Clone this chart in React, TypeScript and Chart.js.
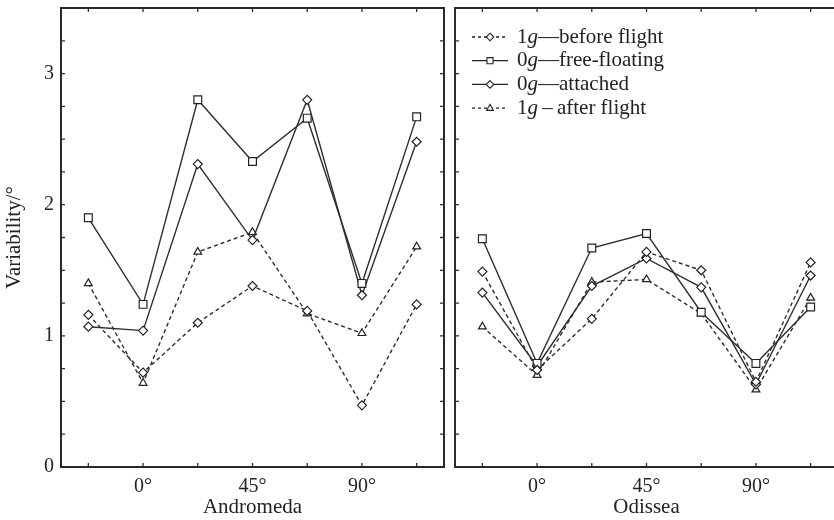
import React, { useEffect, useRef } from 'react';
import { Chart, registerables } from 'chart.js';

Chart.register(...registerables);

// ---------- data ----------
const categories = ['', '0°', '', '45°', '', '90°', ''];
const yTickValues = [0, 1, 2, 3];
const panelTitles = ['Andromeda', 'Odissea'];
const yTitle = 'Variability/°';

const seriesNames = ['1g—before flight', '0g—free-floating', '0g—attached', '1g – after flight'];
const legendPrefix = ['1', '0', '0', '1'];
const legendItalic = ['g', 'g', 'g', 'g'];
const legendSuffix = ['—before flight', '—free-floating', '—attached', '\u2009–\u2009after flight'];

const andromedaBefore = [1.16, 0.72, 1.1, 1.38, 1.19, 0.47, 1.24];
const andromedaFree = [1.9, 1.24, 2.8, 2.33, 2.66, 1.4, 2.67];
const andromedaAttached = [1.07, 1.04, 2.31, 1.73, 2.8, 1.31, 2.48];
const andromedaAfter = [1.4, 0.64, 1.64, 1.79, 1.17, 1.02, 1.68];

const odisseaBefore = [1.49, 0.74, 1.13, 1.64, 1.5, 0.65, 1.56];
const odisseaFree = [1.74, 0.79, 1.67, 1.78, 1.18, 0.79, 1.22];
const odisseaAttached = [1.33, 0.77, 1.38, 1.59, 1.37, 0.63, 1.46];
const odisseaAfter = [1.07, 0.7, 1.41, 1.43, 1.17, 0.59, 1.29];

// ---------- styles ----------
const FONT = '"Liberation Serif", "Times New Roman", serif';
const INK = '#222';
const LINE = '#2e2e2e';
const DASH = [4, 3];

const styles = [
  { dash: DASH, pointStyle: 'rectRot', radius: 4.5 },
  { dash: [], pointStyle: 'rect', radius: 5.5 },
  { dash: [], pointStyle: 'rectRot', radius: 4.5 },
  { dash: DASH, pointStyle: 'triangle', radius: 4.5 },
];

function makeDatasets(series: number[][]) {
  return series.map((data, i) => ({
    label: seriesNames[i],
    data,
    borderColor: LINE,
    borderWidth: 1.4,
    borderDash: styles[i].dash,
    pointStyle: styles[i].pointStyle,
    pointRadius: styles[i].radius,
    pointBorderColor: INK,
    pointBackgroundColor: '#fff',
    pointBorderWidth: 1.2,
    tension: 0,
    fill: false,
  }));
}

const framePlugin = {
  id: 'frameTicks',
  afterDraw(chart: any) {
    const { ctx, chartArea, scales } = chart;
    const { left, right, top, bottom } = chartArea;
    const x = scales.x;
    const y = scales.y;
    ctx.save();
    ctx.setLineDash([]);
    ctx.strokeStyle = LINE;
    ctx.lineWidth = 1.3;
    ctx.beginPath();
    x.ticks.forEach((_: any, i: number) => {
      const px = x.getPixelForTick(i);
      ctx.moveTo(px, bottom);
      ctx.lineTo(px, bottom - 4);
      ctx.moveTo(px, top);
      ctx.lineTo(px, top + 4);
    });
    y.ticks.forEach((_: any, i: number) => {
      const py = y.getPixelForTick(i);
      ctx.moveTo(left, py);
      ctx.lineTo(left + 4, py);
      ctx.moveTo(right, py);
      ctx.lineTo(right - 4, py);
    });
    ctx.stroke();
    ctx.lineWidth = 2;
    ctx.strokeStyle = '#2a2a2a';
    ctx.strokeRect(left, top, right - left, bottom - top);
    ctx.restore();
  },
};

function drawMarker(ctx: CanvasRenderingContext2D, style: string, cx: number, cy: number, r: number) {
  ctx.beginPath();
  if (style === 'rect') {
    const s = r * 0.8;
    ctx.rect(cx - s, cy - s, 2 * s, 2 * s);
  } else if (style === 'rectRot') {
    ctx.moveTo(cx, cy - r);
    ctx.lineTo(cx + r, cy);
    ctx.lineTo(cx, cy + r);
    ctx.lineTo(cx - r, cy);
    ctx.closePath();
  } else {
    ctx.moveTo(cx, cy - r);
    ctx.lineTo(cx + r * 0.9, cy + r * 0.6);
    ctx.lineTo(cx - r * 0.9, cy + r * 0.6);
    ctx.closePath();
  }
  ctx.fillStyle = '#fff';
  ctx.fill();
  ctx.stroke();
}

const legendPlugin = {
  id: 'insideLegend',
  afterDraw(chart: any) {
    const { ctx, chartArea } = chart;
    ctx.save();
    chart.data.datasets.forEach((ds: any, i: number) => {
      const cy = chartArea.top + 29 + i * 23.7;
      const x0 = chartArea.left + 17;
      const x1 = x0 + 36;
      ctx.strokeStyle = INK;
      ctx.lineWidth = 1.3;
      ctx.setLineDash(ds.borderDash && ds.borderDash.length ? [3, 3] : []);
      ctx.beginPath();
      ctx.moveTo(x0, cy);
      ctx.lineTo(x1, cy);
      ctx.stroke();
      ctx.setLineDash([]);
      ctx.lineWidth = 1.1;
      drawMarker(ctx, ds.pointStyle, (x0 + x1) / 2, cy, 3.8);
      ctx.fillStyle = INK;
      ctx.textBaseline = 'middle';
      ctx.textAlign = 'left';
      let tx = x1 + 9;
      ctx.font = `21px ${FONT}`;
      ctx.fillText(legendPrefix[i], tx, cy);
      tx += ctx.measureText(legendPrefix[i]).width;
      ctx.font = `italic 21px ${FONT}`;
      ctx.fillText(legendItalic[i], tx, cy);
      tx += ctx.measureText(legendItalic[i]).width;
      ctx.font = `21px ${FONT}`;
      ctx.fillText(legendSuffix[i], tx, cy);
    });
    ctx.restore();
  },
};

function makeOptions(title: string, isLeft: boolean) {
  return {
    responsive: false,
    animation: false as const,
    layout: { autoPadding: false, padding: { left: 0, right: isLeft ? 6 : 0, top: 8, bottom: 0 } },
    plugins: { legend: { display: false }, tooltip: { enabled: false } },
    scales: {
      x: {
        type: 'category' as const,
        offset: true,
        grid: { display: false, drawTicks: false },
        border: { display: false },
        ticks: {
          autoSkip: false,
          maxRotation: 0,
          padding: 8,
          color: INK,
          font: { family: FONT, size: 20 },
        },
        title: {
          display: true,
          text: title,
          color: INK,
          font: { family: FONT, size: 21 },
          padding: { top: 0, bottom: 0 },
        },
        afterFit: (s: any) => {
          s.height = 53;
          s.paddingLeft = 0;
          s.paddingRight = 0;
        },
      },
      y: {
        min: 0,
        max: 3.5,
        grid: { display: false, drawTicks: false },
        border: { display: false },
        ticks: {
          display: isLeft,
          stepSize: 0.25,
          padding: 7,
          color: INK,
          font: { family: FONT, size: 20 },
          callback: (v: number) => (yTickValues.includes(v) ? String(v) : ''),
        },
        title: {
          display: isLeft,
          text: yTitle,
          color: INK,
          font: { family: FONT, size: 21 },
          padding: { top: 2, bottom: 0 },
        },
        afterFit: (s: any) => {
          s.width = isLeft ? 61 : 5;
          s.paddingTop = 0;
          s.paddingBottom = 0;
        },
      },
    },
  };
}

export default function App() {
  const leftRef = useRef<HTMLCanvasElement>(null);
  const rightRef = useRef<HTMLCanvasElement>(null);

  useEffect(() => {
    const left = new Chart(leftRef.current as HTMLCanvasElement, {
      type: 'line',
      data: {
        labels: categories,
        datasets: makeDatasets([andromedaBefore, andromedaFree, andromedaAttached, andromedaAfter]) as any,
      },
      options: makeOptions(panelTitles[0], true) as any,
      plugins: [framePlugin],
    });
    const right = new Chart(rightRef.current as HTMLCanvasElement, {
      type: 'line',
      data: {
        labels: categories,
        datasets: makeDatasets([odisseaBefore, odisseaFree, odisseaAttached, odisseaAfter]) as any,
      },
      options: makeOptions(panelTitles[1], false) as any,
      plugins: [framePlugin, legendPlugin],
    });
    return () => {
      left.destroy();
      right.destroy();
    };
  }, []);

  return (
    <div
      style={{
        position: 'fixed',
        left: 0,
        top: 0,
        width: 834,
        height: 520,
        overflow: 'hidden',
        background: '#fff',
      }}
    >
      <canvas ref={leftRef} width={450} height={520} style={{ position: 'absolute', left: 0, top: 0 }} />
      <canvas ref={rightRef} width={388} height={520} style={{ position: 'absolute', left: 450, top: 0 }} />
    </div>
  );
}
